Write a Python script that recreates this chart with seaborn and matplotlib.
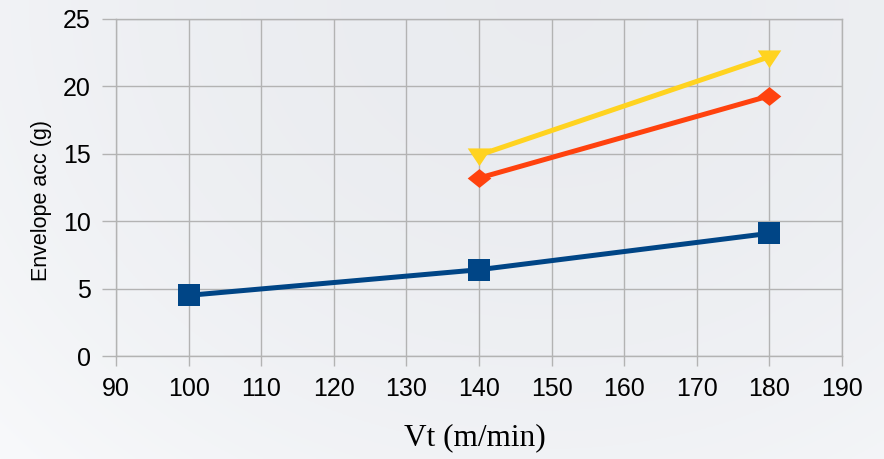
import numpy as np
import pandas as pd
import matplotlib
matplotlib.use("Agg")
import matplotlib.pyplot as plt
import seaborn as sns

# Cutting speed (m/min) and envelope acceleration (g) per series
vt_a = [100, 140, 180]
env_a = [4.5, 6.4, 9.1]
vt_b = [140, 180]
env_b = [13.2, 19.3]
vt_c = [140, 180]
env_c = [14.9, 22.2]

x_ticks = [90, 100, 110, 120, 130, 140, 150, 160, 170, 180, 190]
y_ticks = [0, 5, 10, 15, 20, 25]

colors = ["#004586", "#ff420e", "#ffd320"]

sns.set_style("white")
plt.rcParams["font.family"] = ["Liberation Sans", "DejaVu Sans"]
plt.rcParams["text.color"] = "black"
plt.rcParams["axes.labelcolor"] = "black"

fig = plt.figure(figsize=(8.84, 4.59), dpi=100)

# soft backdrop gradient
bg = fig.add_axes([0, 0, 1, 1], zorder=-10)
yy, xx = np.mgrid[0:1:200j, 0:1:400j]
base = np.array([233, 235, 239]) / 255.0
light = np.array([248, 249, 251]) / 255.0
w = np.clip(0.55 * (1 - xx) ** 3 + 0.45 * yy ** 2 + 0.25 * xx ** 4, 0, 1)
img = base[None, None, :] * (1 - w[..., None]) + light[None, None, :] * w[..., None]
bg.imshow(img, aspect="auto", extent=[0, 1, 0, 1], origin="upper")
bg.axis("off")

ax = fig.add_axes([116 / 884, 1 - 356 / 459, 726 / 884, 337 / 459])
ax.set_facecolor("none")

df_a = pd.DataFrame({"vt": vt_a, "env": env_a})
df_b = pd.DataFrame({"vt": vt_b, "env": env_b})
df_c = pd.DataFrame({"vt": vt_c, "env": env_c})

diamond = [(-1.0, 0.0), (0.0, 0.8), (1.0, 0.0), (0.0, -0.8), (-1.0, 0.0)]
tri_down = [(-1.0, 0.6), (1.0, 0.6), (0.0, -0.9), (-1.0, 0.6)]

sns.lineplot(data=df_a, x="vt", y="env", ax=ax, color=colors[0], linewidth=3.6,
             marker="s", markersize=16, markeredgewidth=0, zorder=3)
sns.lineplot(data=df_b, x="vt", y="env", ax=ax, color=colors[1], linewidth=3.6,
             marker=diamond, markersize=17, markeredgewidth=0, zorder=3)
sns.lineplot(data=df_c, x="vt", y="env", ax=ax, color=colors[2], linewidth=3.6,
             marker=tri_down, markersize=17, markeredgewidth=0, zorder=3)

ax.set_xlim(90, 190)
ax.set_ylim(0, 25)
ax.set_xticks(x_ticks)
ax.set_yticks(y_ticks)
ax.grid(True, color="#b3b3b3", linewidth=1.0)
ax.set_axisbelow(True)
for s in ax.spines.values():
    s.set_color("#b3b3b3")
    s.set_linewidth(1.0)

ax.tick_params(axis="x", length=7, width=1.0, color="#b3b3b3", pad=8,
               labelsize=18, labelcolor="black", bottom=True)
ax.tick_params(axis="y", length=10, width=1.0, color="#b3b3b3", pad=8,
               labelsize=18, labelcolor="black", left=True)

ax.set_xlabel("Vt (m/min)", fontsize=22.5, color="black",
              family=["Liberation Serif", "DejaVu Serif"])
ax.xaxis.set_label_coords(0.495, -0.20)
ax.set_ylabel("Envelope acc (g)", fontsize=15.5, color="black", va="center")
ax.yaxis.set_label_coords(-0.102, 0.46)

fig.savefig("out.png", dpi=100)
